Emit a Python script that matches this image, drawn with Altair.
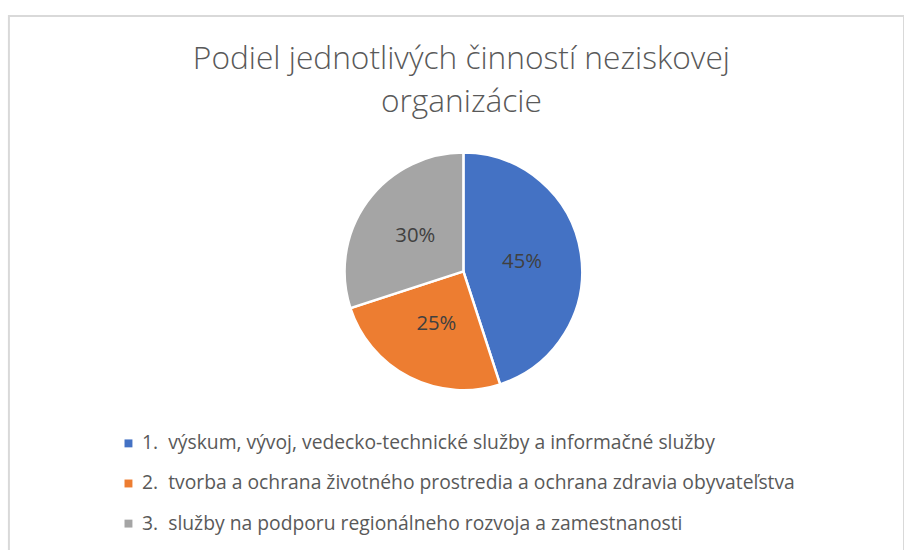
import altair as alt
import pandas as pd

categories = [
    "1.\u00a0 výskum, vývoj, vedecko-technické služby a informačné služby",
    "2.\u00a0 tvorba a ochrana životného prostredia a ochrana zdravia obyvateľstva",
    "3.\u00a0 služby na podporu regionálneho rozvoja a zamestnanosti",
]
values = [45, 25, 30]
colors = ["#4472C4", "#ED7D31", "#A5A5A5"]
title_lines = ["Podiel jednotlivých činností neziskovej", "organizácie"]

df = pd.DataFrame({
    "kategoria": categories,
    "podiel": values,
    "poradie": list(range(len(categories))),
})
df["label"] = df["podiel"].astype(str) + "%"

FONT = "Open Sans"
cx, cy, R = 459, 258, 120

base = alt.Chart(df).encode(
    theta=alt.Theta("podiel:Q", stack=True),
    order=alt.Order("poradie:Q"),
)

arcs = base.mark_arc(outerRadius=R, stroke="white", strokeWidth=2.5).encode(
    x=alt.value(cx),
    y=alt.value(cy),
    color=alt.Color(
        "kategoria:N",
        sort=categories,
        scale=alt.Scale(domain=categories, range=colors),
        legend=alt.Legend(
            title=None,
            orient="none",
            legendX=111,
            legendY=422,
            symbolType="square",
            symbolSize=64,
            symbolStrokeWidth=0,
            labelFontSize=19.5,
            labelFont=FONT,
            labelColor="#595959",
            labelLimit=900,
            labelOffset=4,
            rowPadding=19.5,
            padding=0,
        ),
    ),
)

texts = base.mark_text(
    radius=60, fontSize=20.5, font=FONT, color="#404040"
).encode(
    x=alt.value(cx),
    y=alt.value(cy),
    text="label:N",
)

chart = alt.layer(arcs, texts).properties(
    width=904,
    height=600,
    autosize=alt.AutoSizeParams(type="none"),
    padding={"left": 9, "top": 13, "right": 0, "bottom": 0},
    title=alt.TitleParams(
        text=title_lines,
        font=FONT,
        fontSize=32,
        fontWeight=300,
        color="#595959",
        anchor="middle",
        orient="top",
        offset=-104,
        lineHeight=43,
        dx=5,
    ),
).configure_view(stroke="#D9D9D9", strokeWidth=2)

chart.save("out.html", embed_options={"renderer": "svg", "actions": False})
